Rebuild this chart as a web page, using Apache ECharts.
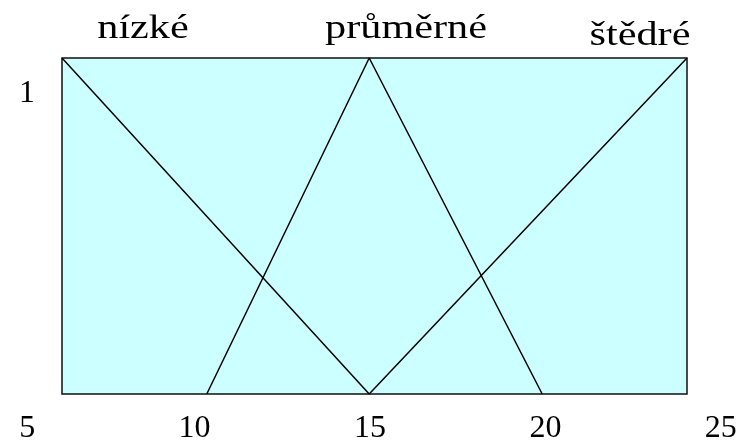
<!DOCTYPE html>
<html>
<head>
<meta charset="utf-8">
<script src="https://cdn.jsdelivr.net/npm/echarts@6/dist/echarts.min.js"></script>
<style>
  html, body { margin: 0; padding: 0; background: #fff; }
  #main { width: 750px; height: 445px; }
</style>
</head>
<body>
<div id="main"></div>
<script>
// membership functions (x, degree)
const setNames = ['nízké', 'průměrné', 'štědré'];
const lowPts = [[6.3, 1], [15, 0]];
const midPts = [[10.4, 0], [15, 1], [19.9, 0]];
const highPts = [[15, 0], [24, 1]];
const xMin = 6.3, xMax = 24;
const tickLabels = [5, 10, 15, 20, 25];

const font = '"Liberation Serif", serif';
const chart = echarts.init(document.getElementById('main'));

function lineSeries(name, pts) {
  return {
    type: 'line',
    name: name,
    xAxisIndex: 0,
    yAxisIndex: 0,
    data: pts,
    symbol: 'none',
    lineStyle: { color: '#000', width: 1.5 },
    animation: false
  };
}

// top labels (stretched a bit like the original slide text)
const labelPos = [[143, 46], [406, 46], [640, 53]];
const graphics = setNames.map((t, i) => ({
  type: 'text',
  x: labelPos[i][0],
  y: labelPos[i][1],
  scaleX: 1.28,
  style: {
    text: t,
    fontSize: 33,
    fontFamily: font,
    fill: '#000',
    align: 'center',
    verticalAlign: 'bottom'
  }
}));

chart.setOption({
  animation: false,
  grid: [
    { left: 62, right: 63, top: 58, bottom: 51, show: true,
      backgroundColor: '#ccffff', borderColor: '#111', borderWidth: 1.5 },
    { left: 19.2, right: 29.2, top: 58, bottom: 51 }
  ],
  xAxis: [
    { type: 'value', gridIndex: 0, min: xMin, max: xMax,
      axisLine: { show: false }, axisTick: { show: false },
      axisLabel: { show: false }, splitLine: { show: false } },
    { type: 'value', gridIndex: 1, min: tickLabels[0], max: tickLabels[tickLabels.length - 1],
      interval: 5,
      axisLine: { show: false }, axisTick: { show: false }, splitLine: { show: false },
      axisLabel: { color: '#000', fontSize: 32, fontFamily: font, margin: 20,
        alignMinLabel: 'left' } }
  ],
  yAxis: [
    { type: 'value', gridIndex: 0, min: 0, max: 1, interval: 1,
      axisLine: { show: false }, axisTick: { show: false }, splitLine: { show: false },
      axisLabel: { color: '#000', fontSize: 32, fontFamily: font, margin: 27,
        showMinLabel: false, verticalAlign: 'top', lineHeight: 71 } },
    { type: 'value', gridIndex: 1, show: false, min: 0, max: 1 }
  ],
  series: [
    lineSeries(setNames[0], lowPts),
    lineSeries(setNames[1], midPts),
    lineSeries(setNames[2], highPts)
  ],
  graphic: graphics
});
</script>
</body>
</html>
